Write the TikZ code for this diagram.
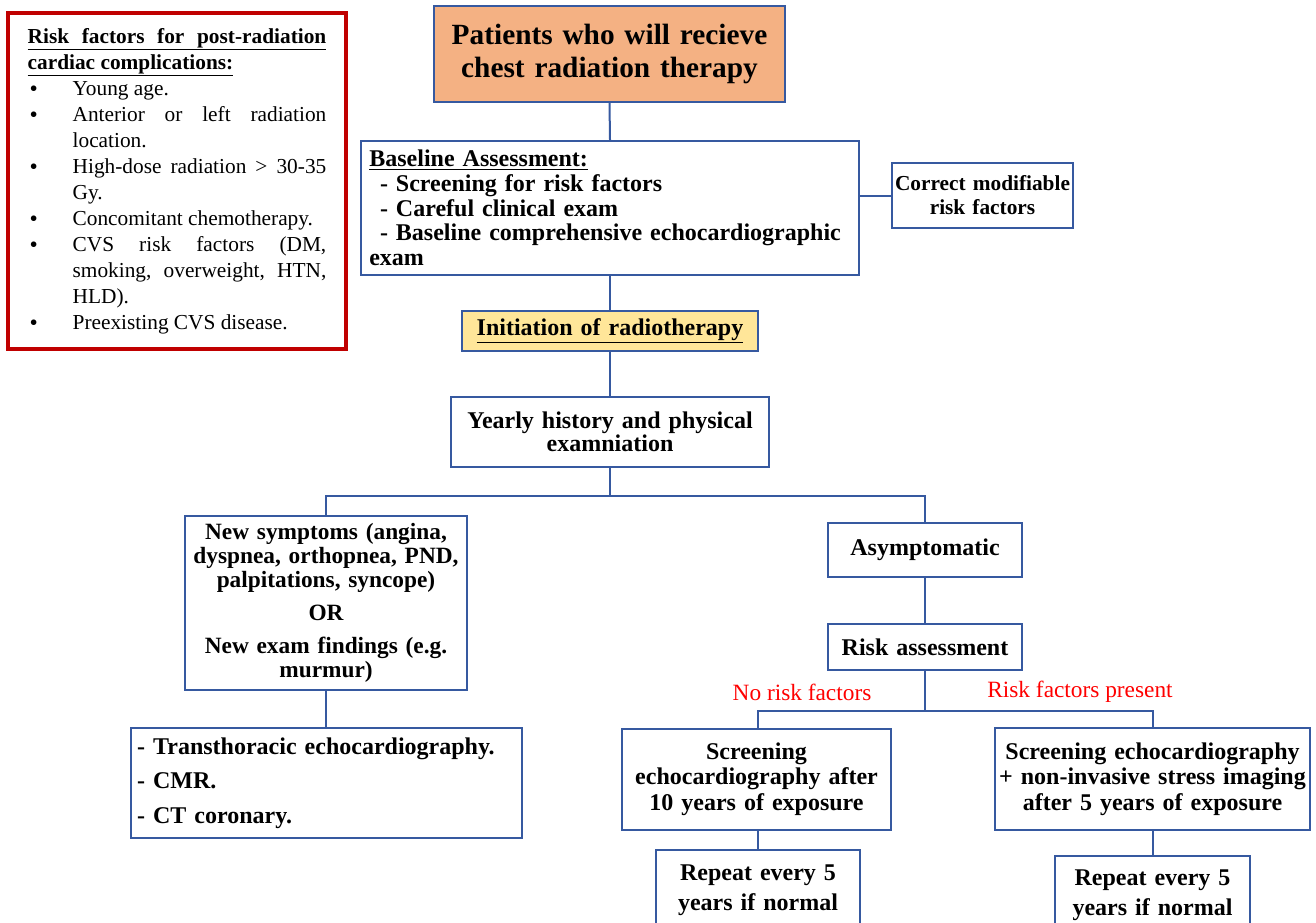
\documentclass[tikz,border=0pt]{standalone}
\usepackage{fontspec}
\setmainfont{Liberation Serif}
\usetikzlibrary{positioning}

\definecolor{boxblue}{RGB}{54,89,160}
\definecolor{titlefill}{RGB}{244,177,131}
\definecolor{initfill}{RGB}{255,230,153}
\definecolor{riskred}{RGB}{192,0,0}
\definecolor{labelred}{RGB}{255,0,0}

\hyphenpenalty=10000
\exhyphenpenalty=10000
\tolerance=9999

\newcommand\rfitem[1]{\par\noindent\hangindent=33.75pt\hangafter=1\makebox[33.75pt][l]{\hspace{1.5pt}\raisebox{-1.2pt}[0pt][0pt]{\scalebox{1.1}{\textbullet}}}#1}

\begin{document}
\begin{tikzpicture}[
x=0.75pt, y=-0.75pt,
flowbox/.style={
    draw=boxblue,
    line width=1.5pt,
    inner sep=0pt,
    align=center,
    font=\fontsize{18}{18.5}\selectfont\bfseries
    },
boxsize/.style 2 args={minimum width=#1*0.75pt, minimum height=#2*0.75pt},
link/.style={draw=boxblue, line width=1.5pt},
redlabel/.style={text=labelred, font=\fontsize{17.5}{18}\selectfont}
]

\useasboundingbox (0,0) rectangle (1316,922);
\clip (0,0) rectangle (1316,922);

% side box
\node[draw=riskred, line width=2.6pt, inner xsep=14.75pt, inner ysep=0pt,
      minimum height=252pt, text width=224pt, align=justify,
      font=\fontsize{16}{19.5}\selectfont] (riskfactors) at (177,181) {%
\hyphenpenalty=10000\exhyphenpenalty=10000\tolerance=9999
\noindent{\bfseries\underline{\makebox[224pt][s]{Risk factors for post-radiation}}\par
\noindent\underline{cardiac complications:}}
\rfitem{Young age.}
\rfitem{Anterior or left radiation location.}
\rfitem{High-dose radiation > 30-35 Gy.}
\rfitem{Concomitant chemotherapy.}
\rfitem{CVS risk factors (DM, smoking, overweight, HTN, HLD).}
\rfitem{Preexisting CVS disease.}\par};

% main spine
\node[flowbox, fill=titlefill, boxsize={351}{96}, text width=255pt,
      font=\fontsize{22}{24.5}\selectfont\bfseries] (patients) at (609.5,54)
      {Patients who will recieve\\chest radiation therapy};
\node[flowbox, boxsize={498}{134}, text width=361pt, align=left, inner xsep=6pt] (baseline) at (610,208)
      {\underline{Baseline Assessment:}\\
       \hspace*{8pt}- Screening for risk factors\\
       \hspace*{8pt}- Careful clinical exam\\
       \hspace*{8pt}- Baseline comprehensive echocardiographic\\
       exam};
\node[flowbox, boxsize={181}{65}, text width=132pt,
      font=\fontsize{16}{18}\selectfont\bfseries] (correct) at (982.5,195.5)
      {Correct modifiable\\risk factors};
\node[flowbox, fill=initfill, boxsize={296}{40}, text width=215pt] (initiation) at (610,331)
      {\underline{Initiation of radiotherapy}};
\node[flowbox, boxsize={318}{70}, text width=230pt, font=\fontsize{18}{17.5}\selectfont\bfseries] (yearly) at (610,432)
      {Yearly history and physical\\examniation};

% symptomatic branch
\node[flowbox, boxsize={282}{174}, text width=205pt, font=\fontsize{17.5}{18}\selectfont\bfseries] (symptoms) at (326,603)
      {New symptoms (angina,\\dyspnea, orthopnea, PND,\\palpitations, syncope)\\[7pt]
       OR\\[7pt]
       New exam findings (e.g.\\murmur)};
\node[flowbox, boxsize={391}{110}, text width=284pt, align=left, inner xsep=4.5pt,
      font=\fontsize{18}{26}\selectfont\bfseries] (imaging) at (326.5,783)
      {- Transthoracic echocardiography.\\
       - CMR.\\
       - CT coronary.};

% asymptomatic branch
\node[flowbox, boxsize={194}{54}, text width=140pt] (asymptomatic) at (925,550) {Asymptomatic};
\node[flowbox, boxsize={194}{46}, text width=140pt, below=33.75pt of asymptomatic] (riskassess) {Risk assessment};
\node[redlabel] (norisk) at (802,692) {No risk factors};
\node[redlabel] (riskpresent) at (1080,692) {Risk factors present};
\node[flowbox, boxsize={269}{101}, text width=198pt, font=\fontsize{18}{19}\selectfont\bfseries] (screenten) at (756.5,779)
      {Screening\\echocardiography after\\10 years of exposure};
\node[flowbox, boxsize={315}{102}, text width=234pt, font=\fontsize{18}{19}\selectfont\bfseries] (screenfive) at (1152.5,779)
      {Screening echocardiography\\+ non-invasive stress imaging\\after 5 years of exposure};
\node[flowbox, boxsize={204}{80}, text width=150pt, font=\fontsize{18}{22.5}\selectfont\bfseries] (repeatten) at (758,890)
      {Repeat every 5\\years if normal};
\node[flowbox, boxsize={195}{78}, text width=146pt, font=\fontsize{18}{22.5}\selectfont\bfseries] (repeatfive) at (1152.5,895)
      {Repeat every 5\\years if normal};

% connectors
\draw[link] (patients.south) -- (baseline.north);
\draw[link] (baseline.east |- correct.west) -- (correct.west);
\draw[link] (baseline.south) -- (initiation.north);
\draw[link] (initiation.south) -- (yearly.north);
\draw[link] (yearly.south) -- ++(0,28) -| (symptoms.north);
\draw[link] (yearly.south) -- ++(0,28) -| (asymptomatic.north);
\draw[link] (symptoms.south) -- (symptoms.south |- imaging.north);
\draw[link] (asymptomatic) -- (riskassess);
\draw[link] (riskassess.south) -- ++(0,40) -| (repeatten.north |- screenten.north);
\draw[link] (riskassess.south) -- ++(0,40) -| (screenfive.north);
\draw[link] (repeatten.north |- screenten.south) -- (repeatten.north);
\draw[link] (screenfive.south) -- (repeatfive.north);

\end{tikzpicture}
\end{document}
